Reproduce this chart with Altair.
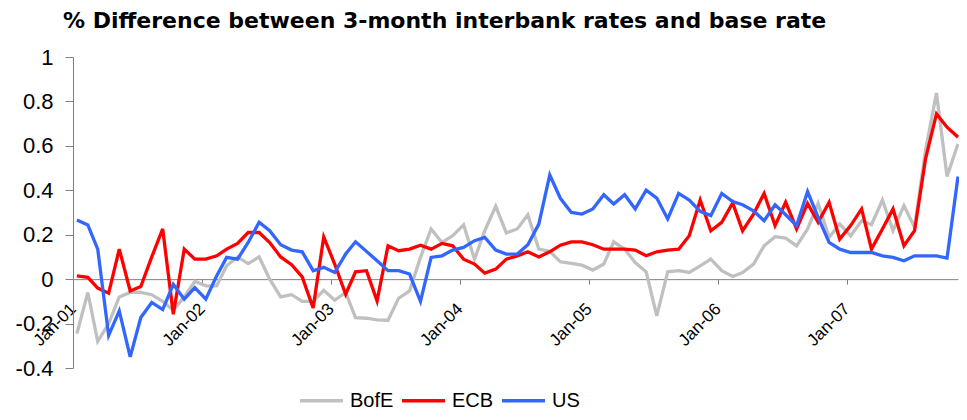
import altair as alt
import pandas as pd

series_names = ["BofE", "ECB", "US"]
series_colors = ["#C0C0C0", "#FF0000", "#3366FF"]

bofe = [-0.245, -0.06, -0.28, -0.2, -0.08, -0.06, -0.06, -0.07, -0.10, -0.14, -0.08, -0.01,
        -0.03, -0.03, 0.06, 0.10, 0.07, 0.10, 0.0, -0.08, -0.07, -0.10, -0.10, -0.05,
        -0.095, -0.06, -0.173, -0.176, -0.183, -0.185, -0.086, -0.053, 0.098, 0.226, 0.165, 0.195,
        0.244, 0.09, 0.218, 0.328, 0.208, 0.226, 0.29, 0.135, 0.125, 0.078, 0.071, 0.063,
        0.041, 0.068, 0.168, 0.135, 0.075, 0.033, -0.165, 0.033, 0.038, 0.03, 0.06, 0.09,
        0.038, 0.012, 0.03, 0.068, 0.15, 0.191, 0.185, 0.15, 0.226, 0.341, 0.188, 0.248,
        0.195, 0.263, 0.245, 0.356, 0.218, 0.331, 0.233, 0.579, 0.838, 0.462, 0.609]

ecb = [0.015, 0.008, -0.04, -0.063, 0.135, -0.053, -0.033, 0.10, 0.226, -0.158, 0.135, 0.09,
       0.09, 0.105, 0.135, 0.161, 0.21, 0.21, 0.165, 0.10, 0.065, 0.01, -0.13, 0.19,
       0.068, -0.068, 0.033, 0.038, -0.098, 0.15, 0.128, 0.135, 0.153, 0.135, 0.161, 0.15,
       0.09, 0.068, 0.027, 0.045, 0.09, 0.105, 0.123, 0.10, 0.123, 0.153, 0.168, 0.168,
       0.155, 0.135, 0.135, 0.135, 0.131, 0.105, 0.123, 0.131, 0.135, 0.195, 0.356, 0.218,
       0.256, 0.343, 0.218, 0.293, 0.386, 0.241, 0.346, 0.226, 0.341, 0.256, 0.346, 0.18,
       0.241, 0.316, 0.135, 0.226, 0.316, 0.15, 0.218, 0.541, 0.744, 0.684, 0.639]

us = [0.266, 0.244, 0.135, -0.253, -0.143, -0.35, -0.173, -0.105, -0.137, -0.023, -0.09, -0.038,
      -0.09, 0.015, 0.098, 0.09, 0.165, 0.256, 0.218, 0.155, 0.131, 0.123, 0.038, 0.053,
      0.030, 0.113, 0.168, 0.125, 0.083, 0.038, 0.038, 0.023, -0.10, 0.098, 0.105, 0.131,
      0.143, 0.173, 0.188, 0.131, 0.113, 0.113, 0.155, 0.248, 0.469, 0.364, 0.30, 0.293,
      0.316, 0.38, 0.338, 0.38, 0.316, 0.40, 0.365, 0.271, 0.386, 0.356, 0.305, 0.286,
      0.386, 0.349, 0.335, 0.308, 0.263, 0.335, 0.29, 0.241, 0.394, 0.278, 0.165, 0.135,
      0.12, 0.12, 0.12, 0.105, 0.098, 0.083, 0.105, 0.105, 0.105, 0.095, 0.462]

y_ticks = [-0.4, -0.2, 0, 0.2, 0.4, 0.6, 0.8, 1]
x_tick_years = [2001, 2002, 2003, 2004, 2005, 2006, 2007]

dates = [(d + pd.Timedelta(days=11)).strftime("%Y-%m-%d")
         for d in pd.date_range("2001-01-01", periods=len(us), freq="MS")]

rows = []
for name, vals in zip(series_names, [bofe, ecb, us]):
    for d, v in zip(dates, vals):
        rows.append({"date": d, "series": name, "value": v})
df = pd.DataFrame(rows)

W, H = 885, 311
ymin, ymax = -0.4, 1.0
zero_offset = -(0 - ymin) / (ymax - ymin) * H

FONT = "Liberation Sans"

chart = alt.Chart(df).mark_line(strokeWidth=3.3).encode(
    x=alt.X(
        "date:T",
        scale=alt.Scale(
            type="utc",
            domain=[alt.DateTime(year=2001, month=1, date=1, utc=True),
                    alt.DateTime(year=2007, month=11, date=12, utc=True)],
        ),
        axis=alt.Axis(
            values=[alt.DateTime(year=y, month=1, date=1, utc=True) for y in x_tick_years],
            labelExpr="utcFormat(datum.value, '%b-%y')",
            labelAngle=315,
            labelAlign="right",
            labelBaseline="middle",
            labelFont=FONT,
            labelFontSize=17,
            labelColor="black",
            labelPadding=22,
            labelOverlap=False,
            labelBound=False,
            labelFlush=False,
            offset=zero_offset,
            tickSize=5,
            tickColor="#808080",
            domainColor="#808080",
            grid=False,
            title=None,
        ),
    ),
    y=alt.Y(
        "value:Q",
        scale=alt.Scale(domain=[ymin, ymax], nice=False, zero=False),
        axis=alt.Axis(
            values=y_ticks,
            labelExpr="replace(format(datum.value, '~g'), '\u2212', '-')",
            labelFont=FONT,
            labelFontSize=22,
            labelColor="black",
            labelPadding=12,
            tickSize=8,
            tickColor="#808080",
            domainColor="#808080",
            grid=False,
            title=None,
        ),
    ),
    color=alt.Color(
        "series:N",
        scale=alt.Scale(domain=series_names, range=series_colors),
        legend=alt.Legend(
            orient="none",
            legendX=225,
            legendY=320,
            direction="horizontal",
            symbolType="stroke",
            symbolSize=1849,
            symbolStrokeWidth=3.5,
            labelFont=FONT,
            labelFontSize=20,
            labelColor="black",
            labelOffset=5,
            columnPadding=1,
            padding=0,
            title=None,
        ),
    ),
    detail="series:N",
).properties(
    width=W,
    height=H,
    autosize=alt.AutoSizeParams(type="none"),
    padding={"left": 65, "top": 49, "right": 1, "bottom": 44},
    title=alt.Title(
        "% Difference between 3-month interbank rates and base rate",
        anchor="start",
        frame="group",
        font="DejaVu Sans",
        fontSize=22,
        fontWeight="bold",
        color="black",
        dx=-10,
        offset=13,
    ),
).configure_view(stroke=None)

chart.save("out.html", embed_options={"renderer": "svg", "actions": False})
